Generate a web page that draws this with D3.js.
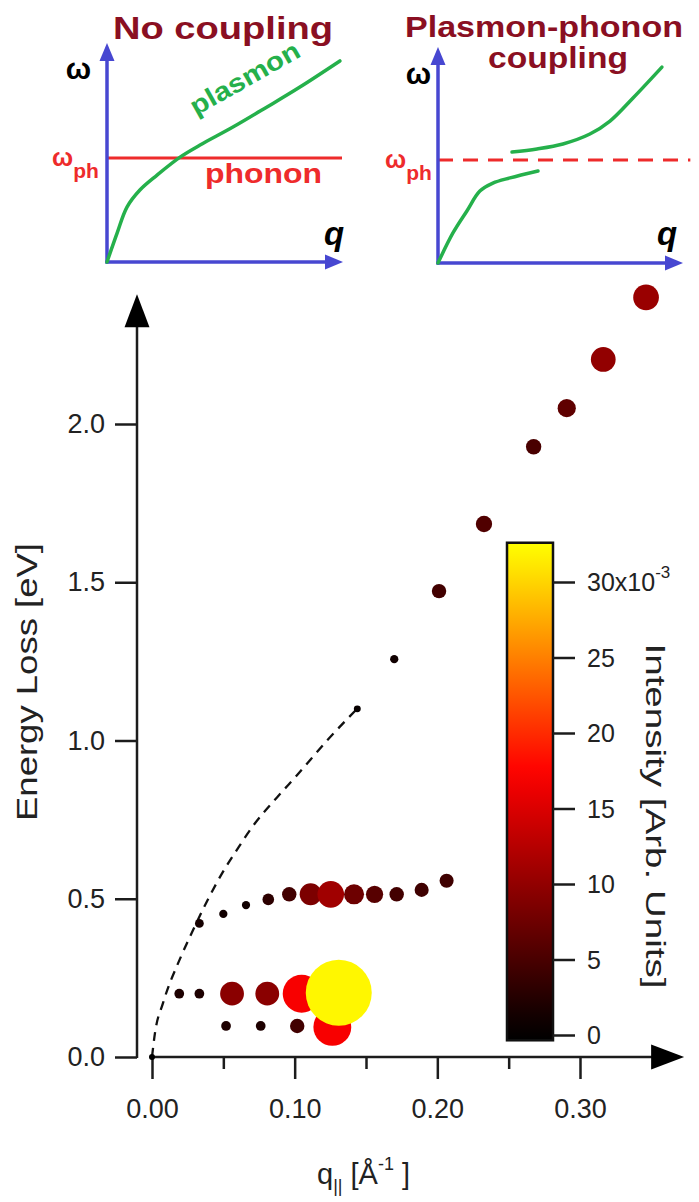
<!DOCTYPE html>
<html>
<head>
<meta charset="utf-8">
<script src="https://d3js.org/d3.v7.min.js"></script>
<style>
body { margin: 0; background: #fff; }
svg text { font-family: "Liberation Sans", Arial, sans-serif; }
</style>
</head>
<body>
<svg id="chart" width="699" height="1202"></svg>
<script>
// measured loss peaks: q|| (1/A), energy loss (eV), intensity (x10^-3 arb. units)
var qVals = [0,
  0.0519, 0.0762, 0.1018, 0.1264,
  0.0191, 0.0332, 0.0561, 0.0808, 0.1049, 0.1309,
  0.0332, 0.0500, 0.0659, 0.0815, 0.0962, 0.1112, 0.1253, 0.1416, 0.1560, 0.1715, 0.1890, 0.2065,
  0.1439, 0.1698, 0.2012, 0.2327, 0.2675, 0.2907, 0.3163, 0.3463];
var eVals = [0,
  0.098, 0.098, 0.098, 0.095,
  0.200, 0.200, 0.200, 0.200, 0.200, 0.203,
  0.422, 0.452, 0.480, 0.498, 0.514, 0.514, 0.514, 0.514, 0.514, 0.514, 0.528, 0.557,
  1.100, 1.257, 1.472, 1.684, 1.928, 2.050, 2.204, 2.400];
var iVals = [0,
  2.0, 2.0, 4.5, 17,
  2.0, 2.0, 9.5, 9.5, 17, 32,
  1.5, 1.2, 1.2, 3.0, 4.5, 8.5, 11, 7.5, 6.0, 4.5, 4.3, 4.3,
  0.5, 1.2, 4.5, 5.5, 5.0, 6.5, 10, 10.5];

// dashed guide curve
var guideQ = [0, 0.0021, 0.0077, 0.0196, 0.0266, 0.0491, 0.0603, 0.0708, 0.0876, 0.1016, 0.1227, 0.1437];
var guideE = [0, 0.076, 0.17, 0.31, 0.38, 0.58, 0.66, 0.73, 0.82, 0.89, 1.00, 1.10];

var xMajor = [0, 0.10, 0.20, 0.30];
var xMinor = [0.05, 0.15, 0.25];
var yTicks = [0, 0.5, 1.0, 1.5, 2.0];
var cbTicks = [0, 5, 10, 15, 20, 25, 30];

// sketch insets (arbitrary units)
var plasmonU = [0, 0.043, 0.085, 0.14, 0.213, 0.311, 0.396, 0.536, 0.681, 0.821, 0.991];
var plasmonW = [0, 0.132, 0.251, 0.329, 0.397, 0.479, 0.534, 0.616, 0.708, 0.799, 0.918];
var phononW = 0.475;
var lowerU = [0, 0.061, 0.118, 0.171, 0.224, 0.294, 0.408];
var lowerW = [0, 0.139, 0.241, 0.333, 0.370, 0.394, 0.426];
var upperU = [0.302, 0.404, 0.510, 0.620, 0.702, 0.796, 0.914];
var upperW = [0.514, 0.528, 0.551, 0.597, 0.657, 0.764, 0.907];
var phononW2 = 0.477;

var svg = d3.select("#chart");
var ink = "#1c1c1c";
var blue = "#4747d1";
var green = "#25b04b";
var red = "#ee2b2b";
var maroon = "#8a0f22";

var x = d3.scaleLinear().domain([0, 0.3]).range([152, 580]);
var y = d3.scaleLinear().domain([0, 2.0]).range([1057, 424]);
var col = d3.scaleLinear().domain([0, 17.5, 32.5]).range(["#000000", "#ff0000", "#ffff00"]).clamp(true);
var rad = d3.scaleLinear().domain([0, 32]).range([3, 33]);
var cb = d3.scaleLinear().domain([0, 30]).range([1035, 582]);

function arrow(g, tx, ty, dir, len, half, fill) {
  var p;
  if (dir === "up") p = [[tx, ty], [tx - half, ty + len], [tx + half, ty + len]];
  else p = [[tx, ty], [tx - len, ty - half], [tx - len, ty + half]];
  g.append("path").attr("d", "M" + p.join("L") + "Z").attr("fill", fill);
}

// ---- main axes ----
var axX = 137;
var yTip = y(2.41), xTip = x(0.373);

var gy = svg.append("g").attr("transform", "translate(" + axX + ",0)")
  .call(d3.axisLeft(y).tickValues(yTicks).tickSize(22).tickSizeOuter(0).tickPadding(10).tickFormat(d3.format(".1f")));
gy.select(".domain").remove();
gy.selectAll("line").attr("stroke", ink).attr("stroke-width", 2.5);
gy.selectAll("text").attr("font-size", 27).attr("fill", "#222").attr("font-family", "Liberation Sans, Arial, sans-serif");
svg.append("line").attr("x1", axX).attr("x2", axX).attr("y1", y(0) + 1).attr("y2", yTip + 30)
  .attr("stroke", ink).attr("stroke-width", 2.5);
arrow(svg, axX, yTip, "up", 33, 12.5, "#000");

var gx = svg.append("g").attr("transform", "translate(0," + y(0) + ")")
  .call(d3.axisBottom(x).tickValues(xMajor).tickSize(22).tickSizeOuter(0).tickPadding(20).tickFormat(d3.format(".2f")));
gx.select(".domain").remove();
gx.selectAll("line").attr("stroke", ink).attr("stroke-width", 2.5);
gx.selectAll("text").attr("font-size", 27).attr("fill", "#222").attr("font-family", "Liberation Sans, Arial, sans-serif");
var gxm = svg.append("g").attr("transform", "translate(0," + y(0) + ")")
  .call(d3.axisBottom(x).tickValues(xMinor).tickSize(12).tickFormat(""));
gxm.select(".domain").remove();
gxm.selectAll("line").attr("stroke", ink).attr("stroke-width", 2.5);
svg.append("line").attr("x1", x(0) - 2).attr("x2", xTip - 30).attr("y1", y(0)).attr("y2", y(0))
  .attr("stroke", ink).attr("stroke-width", 2.5);
arrow(svg, xTip, y(0), "right", 33, 12.5, "#000");

// axis titles
svg.append("text").attr("transform", "translate(37,682) rotate(-90)")
  .attr("text-anchor", "middle").attr("font-size", 29).attr("fill", "#222")
  .attr("textLength", 278).attr("lengthAdjust", "spacingAndGlyphs")
  .text("Energy Loss [eV]");

var xl = svg.append("text").attr("x", 317).attr("y", 1184).attr("font-size", 29).attr("fill", "#222");
xl.append("tspan").text("q");
xl.append("tspan").attr("font-size", 18).attr("dy", 8).text("||");
xl.append("tspan").attr("dy", -8).text(" [Å");
xl.append("tspan").attr("font-size", 18).attr("dy", -14).text("-1");
xl.append("tspan").attr("dy", 14).text(" ]");

// ---- dashed guide ----
var guide = guideQ.map(function (q, i) { return [q, guideE[i]]; });
svg.append("path")
  .attr("d", d3.line().x(function (d) { return x(d[0]); }).y(function (d) { return y(d[1]); })
    .curve(d3.curveMonotoneX)(guide))
  .attr("fill", "none").attr("stroke", "#111").attr("stroke-width", 2.3)
  .attr("stroke-dasharray", "9,7");

// ---- data points ----
var pts = qVals.map(function (q, i) { return { q: q, e: eVals[i], v: iVals[i] }; })
  .sort(function (a, b) { return a.v - b.v; });
svg.append("g").selectAll("circle").data(pts).enter().append("circle")
  .attr("cx", function (d) { return x(d.q); })
  .attr("cy", function (d) { return y(d.e); })
  .attr("r", function (d) { return rad(d.v); })
  .attr("fill", function (d) { return col(d.v); });

// ---- colour bar ----
var cbX = 507, cbW = 46;
var grad = svg.append("defs").append("linearGradient").attr("id", "cbgrad")
  .attr("x1", 0).attr("y1", 1).attr("x2", 0).attr("y2", 0);
var cbLo = -0.35, cbHi = 32.6;
d3.range(0, 21).forEach(function (k) {
  var v = cbLo + (cbHi - cbLo) * k / 20;
  grad.append("stop").attr("offset", (k / 20)).attr("stop-color", col(v));
});
svg.append("rect").attr("x", cbX).attr("y", cb(cbHi)).attr("width", cbW).attr("height", cb(cbLo) - cb(cbHi))
  .attr("fill", "url(#cbgrad)").attr("stroke", "#111").attr("stroke-width", 2.5);
var gc = svg.append("g").attr("transform", "translate(" + (cbX + cbW) + ",0)")
  .call(d3.axisRight(cb).tickValues(cbTicks).tickSize(22).tickSizeOuter(0).tickPadding(10).tickFormat(""));
gc.select(".domain").remove();
gc.selectAll("line").attr("stroke", ink).attr("stroke-width", 2.5);
svg.append("g").selectAll("text").data(cbTicks).enter().append("text")
  .attr("x", cbX + cbW + 34).attr("y", function (d) { return cb(d) + 9; })
  .attr("font-size", 25).attr("fill", "#222")
  .each(function (d) {
    var t = d3.select(this);
    if (d === 30) {
      t.append("tspan").text("30x10");
      t.append("tspan").attr("font-size", 17).attr("dy", -13).text("-3");
    } else t.text(d);
  });
svg.append("text").attr("transform", "translate(646,816) rotate(90)")
  .attr("text-anchor", "middle").attr("font-size", 27).attr("fill", "#222")
  .attr("textLength", 345).attr("lengthAdjust", "spacingAndGlyphs")
  .text("Intensity [Arb. Units]");

// ---- insets ----
function insetAxes(ix, iy, xt, yt) {
  var g = svg.append("g");
  g.append("line").attr("x1", ix(0)).attr("x2", ix(0)).attr("y1", iy(0) + 1.5).attr("y2", yt + 16)
    .attr("stroke", blue).attr("stroke-width", 3.5);
  g.append("line").attr("x1", ix(0) - 1.5).attr("x2", xt - 16).attr("y1", iy(0)).attr("y2", iy(0))
    .attr("stroke", blue).attr("stroke-width", 3.5);
  arrow(g, ix(0), yt, "up", 18, 7.5, blue);
  arrow(g, xt, iy(0), "right", 18, 7.5, blue);
  return g;
}
function sketch(ix, iy, us, ws) {
  var p = us.map(function (u, i) { return [u, ws[i]]; });
  svg.append("path")
    .attr("d", d3.line().x(function (d) { return ix(d[0]); }).y(function (d) { return iy(d[1]); })
      .curve(d3.curveCatmullRom.alpha(0.5))(p))
    .attr("fill", "none").attr("stroke", green).attr("stroke-width", 3.5).attr("stroke-linecap", "round");
}
function omegaLabels(ox, oy, px, py) {
  svg.append("text").attr("x", ox).attr("y", oy).attr("text-anchor", "end")
    .attr("font-family", "Liberation Serif, Times New Roman, serif").attr("font-weight", "bold")
    .attr("font-size", 30).attr("fill", "#000").text("ω");
  var t = svg.append("text").attr("x", px).attr("y", py).attr("font-weight", "bold")
    .attr("font-size", 25).attr("fill", red);
  t.append("tspan").text("ω");
  t.append("tspan").attr("font-size", 21).attr("dy", 12).text("ph");
}
function qLabel(qx, qy) {
  svg.append("text").attr("x", qx).attr("y", qy).attr("font-weight", "bold").attr("font-style", "italic")
    .attr("font-size", 33).attr("fill", "#000").text("q");
}

// inset 1 : no coupling
var ix1 = d3.scaleLinear().domain([0, 1]).range([107, 342]);
var iy1 = d3.scaleLinear().domain([0, 1]).range([262, 43]);
svg.append("line").attr("x1", ix1(0)).attr("x2", ix1(1)).attr("y1", iy1(phononW)).attr("y2", iy1(phononW))
  .attr("stroke", red).attr("stroke-width", 3);
insetAxes(ix1, iy1, 343, 43);
sketch(ix1, iy1, plasmonU, plasmonW);
svg.append("text").attr("x", 223).attr("y", 39).attr("text-anchor", "middle")
  .attr("font-weight", "bold").attr("font-size", 32).attr("fill", maroon)
  .attr("textLength", 220).attr("lengthAdjust", "spacingAndGlyphs").text("No coupling");
svg.append("text").attr("x", 205).attr("y", 183).attr("font-weight", "bold").attr("font-size", 27)
  .attr("fill", red).attr("textLength", 117).attr("lengthAdjust", "spacingAndGlyphs").text("phonon");
svg.append("text").attr("transform", "translate(196,116) rotate(-29.5)")
  .attr("font-weight", "bold").attr("font-size", 26).attr("fill", green)
  .attr("textLength", 122).attr("lengthAdjust", "spacingAndGlyphs").text("plasmon");
omegaLabels(91, 79, 52, 166);
qLabel(324, 245);

// inset 2 : plasmon-phonon coupling
var ix2 = d3.scaleLinear().domain([0, 1]).range([438, 683]);
var iy2 = d3.scaleLinear().domain([0, 1]).range([263, 47]);
svg.append("line").attr("x1", ix2(0)).attr("x2", ix2(1.03)).attr("y1", iy2(phononW2)).attr("y2", iy2(phononW2))
  .attr("stroke", red).attr("stroke-width", 3).attr("stroke-dasharray", "15,10");
insetAxes(ix2, iy2, 683, 47);
sketch(ix2, iy2, lowerU, lowerW);
sketch(ix2, iy2, upperU, upperW);
svg.append("text").attr("x", 544).attr("y", 37).attr("text-anchor", "middle")
  .attr("font-weight", "bold").attr("font-size", 29).attr("fill", maroon)
  .attr("textLength", 278).attr("lengthAdjust", "spacingAndGlyphs").text("Plasmon-phonon");
svg.append("text").attr("x", 558).attr("y", 68).attr("text-anchor", "middle")
  .attr("font-weight", "bold").attr("font-size", 29).attr("fill", maroon)
  .attr("textLength", 140).attr("lengthAdjust", "spacingAndGlyphs").text("coupling");
omegaLabels(431, 84, 385, 168);
qLabel(657, 245);
</script>
</body>
</html>
